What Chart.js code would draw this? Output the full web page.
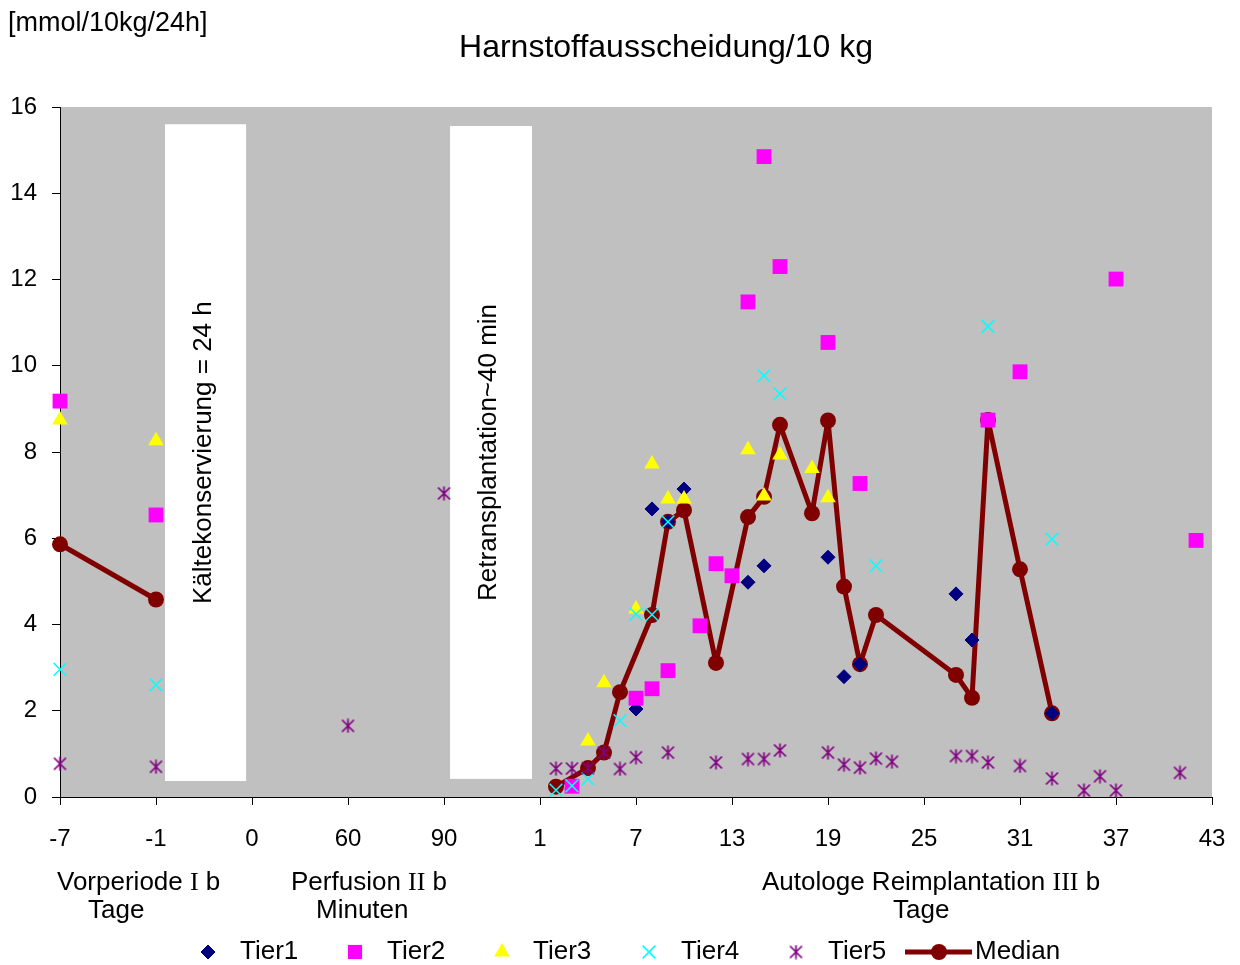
<!DOCTYPE html>
<html>
<head>
<meta charset="utf-8">
<script src="https://cdn.jsdelivr.net/npm/chart.js@4.4.1/dist/chart.umd.min.js"></script>
<style>
  html, body { margin: 0; padding: 0; background: #fff; }
  #wrap { width: 1240px; height: 965px; }
</style>
</head>
<body>
<div id="wrap"><canvas id="harnstoff" width="1240" height="965"></canvas></div>
<script>
// tick labels of the three sections (Vorperiode / Perfusion / Reimplantation)
const tickLabels = ["-7", "-1", "0", "60", "90", "1", "7", "13", "19", "25", "31", "37", "43"];
const vorTage = [-7, -1];
const perfMinuten = [0, 60, 90];

// Vorperiode I b
const tier2Vor = [9.18, 6.54];
const tier3Vor = [8.74, 8.26];
const tier4Vor = [2.96, 2.60];
const tier5Vor = [0.77, 0.70];
const medianVor = [5.86, 4.58];

// Perfusion II b (minutes)
const tier5PerfMin = [60, 90];
const tier5Perf = [1.65, 7.04];

// Autologe Reimplantation III b (days)
const tier1Tage = [7, 8, 9, 10, 14, 15, 19, 20, 21, 27, 28, 33];
const tier1Werte = [2.04, 6.68, 6.38, 7.14, 4.98, 5.36, 5.56, 2.79, 3.08, 4.71, 3.64, 1.94];

const tier2Tage = [3, 7, 8, 9, 11, 12, 13, 14, 15, 16, 19, 21, 29, 31, 37, 42];
const tier2Werte = [0.25, 2.29, 2.51, 2.93, 3.97, 5.41, 5.13, 11.48, 14.85, 12.30, 10.54, 7.27, 8.74, 9.86, 12.01, 5.95];

const tier3Tage = [4, 5, 7, 8, 9, 10, 14, 15, 16, 18, 19];
const tier3Werte = [1.30, 2.65, 4.36, 7.72, 6.91, 6.91, 8.05, 6.98, 7.93, 7.62, 6.94];

const tier4Tage = [2, 3, 4, 6, 7, 8, 9, 15, 16, 22, 29, 33];
const tier4Werte = [0.16, 0.26, 0.42, 1.77, 4.24, 4.23, 6.38, 9.77, 9.35, 5.36, 10.91, 5.98];

const tier5Tage = [2, 3, 4, 5, 6, 7, 9, 12, 14, 15, 16, 19, 20, 21, 22, 23, 27, 28, 29, 31, 33, 35, 36, 37, 41];
const tier5Werte = [0.66, 0.66, 0.67, 1.03, 0.65, 0.92, 1.03, 0.80, 0.88, 0.88, 1.08, 1.03, 0.75, 0.68, 0.89, 0.82, 0.95, 0.95, 0.80, 0.72, 0.43, 0.15, 0.48, 0.15, 0.56];

const medianTage = [2, 4, 5, 6, 8, 9, 10, 12, 14, 15, 16, 18, 19, 20, 21, 22, 27, 28, 29, 31, 33];
const medianWerte = [0.24, 0.67, 1.03, 2.43, 4.22, 6.38, 6.65, 3.11, 6.49, 6.96, 8.63, 6.58, 8.73, 4.88, 3.08, 4.22, 2.83, 2.30, 8.74, 5.28, 1.94];

// every label sits 6 slots apart on the category-like axis
function posVor(d) { return d + 7; }
function posPerf(m) { return 12 + perfMinuten.indexOf(m) * 6; }
function posTag(d) { return 29 + d; }
function pts(xs, ys, f) { return xs.map((x, i) => ({ x: f(x), y: ys[i] })); }

function makeStar(color) {
  const c = document.createElement("canvas");
  c.width = 15; c.height = 15;
  const g = c.getContext("2d");
  g.strokeStyle = color;
  g.lineWidth = 1.7;
  g.beginPath();
  g.moveTo(7.5, 0.5); g.lineTo(7.5, 14.5);
  g.moveTo(1.5, 1.5); g.lineTo(13.5, 13.5);
  g.moveTo(13.5, 1.5); g.lineTo(1.5, 13.5);
  g.stroke();
  return c;
}
const starImg = makeStar("#800080");

const FONT = "'Liberation Sans', Arial, sans-serif";
const SERIF = "'Liberation Serif', 'Times New Roman', serif";
Chart.defaults.font.family = FONT;
Chart.defaults.color = "#000";

const datasets = [
  {
    label: "Tier1", order: 5,
    data: pts(tier1Tage, tier1Werte, posTag),
    pointStyle: "rectRot", pointRadius: 7,
    backgroundColor: "#000080", borderColor: "#000080", borderWidth: 1
  },
  {
    label: "Tier2", order: 4,
    data: [...pts(vorTage, tier2Vor, posVor), ...pts(tier2Tage, tier2Werte, posTag)],
    pointStyle: "rect", pointRadius: 10.5,
    backgroundColor: "#FF00FF", borderColor: "#FF00FF", borderWidth: 0
  },
  {
    label: "Tier3", order: 3,
    data: [...pts(vorTage, tier3Vor, posVor), ...pts(tier3Tage, tier3Werte, posTag)],
    pointStyle: "triangle", pointRadius: 9,
    backgroundColor: "#FFFF00", borderColor: "#FFFF00", borderWidth: 0
  },
  {
    label: "Tier4", order: 2,
    data: [...pts(vorTage, tier4Vor, posVor), ...pts(tier4Tage, tier4Werte, posTag)],
    pointStyle: "crossRot", pointRadius: 9,
    backgroundColor: "#00FFFF", borderColor: "#00FFFF", borderWidth: 1.5
  },
  {
    label: "Tier5", order: 1,
    data: [...pts(vorTage, tier5Vor, posVor), ...pts(tier5PerfMin, tier5Perf, posPerf), ...pts(tier5Tage, tier5Werte, posTag)],
    pointStyle: starImg, pointRadius: 7,
    backgroundColor: "#800080", borderColor: "#800080"
  },
  {
    label: "Median", order: 6,
    data: [...pts(vorTage, medianVor, posVor), { x: 15, y: null }, ...pts(medianTage, medianWerte, posTag)],
    showLine: true, spanGaps: false,
    borderColor: "#800000", borderWidth: 5,
    borderJoinStyle: "round", borderCapStyle: "round",
    pointStyle: "circle", pointRadius: 8,
    backgroundColor: "#800000", pointBorderColor: "#800000", pointBorderWidth: 0
  }
];

// text helper: pieces of [text, font]
function drawPieces(ctx, pieces, x, y) {
  let cx = x;
  pieces.forEach(([t, f]) => {
    ctx.font = f;
    ctx.fillText(t, cx, y);
    cx += ctx.measureText(t).width;
  });
}

const decor = {
  id: "decor",
  beforeDraw(chart) {
    const { ctx, chartArea: a } = chart;
    ctx.save();
    ctx.fillStyle = "#fff";
    ctx.fillRect(0, 0, chart.width, chart.height);
    ctx.fillStyle = "#C0C0C0";
    ctx.fillRect(a.left, a.top, a.right - a.left, a.bottom - a.top);
    ctx.restore();
  },
  beforeDatasetsDraw(chart) {
    const { ctx, scales: { x, y } } = chart;
    const boxes = [
      { x0: 6.56, x1: 11.63, y0: 0.37, y1: 15.6, text: "Kältekonservierung = 24 h" },
      { x0: 24.38, x1: 29.5, y0: 0.42, y1: 15.56, text: "Retransplantation~40 min" }
    ];
    ctx.save();
    boxes.forEach(b => {
      const l = x.getPixelForValue(b.x0), r = x.getPixelForValue(b.x1);
      const t = y.getPixelForValue(b.y1), btm = y.getPixelForValue(b.y0);
      ctx.fillStyle = "#fff";
      ctx.fillRect(l, t, r - l, btm - t);
      ctx.save();
      ctx.translate((l + r) / 2 - 2, (t + btm) / 2);
      ctx.rotate(-Math.PI / 2);
      ctx.fillStyle = "#000";
      ctx.font = "26px " + FONT;
      ctx.textAlign = "center";
      ctx.textBaseline = "middle";
      ctx.fillText(b.text, 0, 0);
      ctx.restore();
    });
    ctx.restore();
  },
  afterDraw(chart) {
    const { ctx } = chart;
    ctx.save();
    ctx.fillStyle = "#000";
    ctx.textBaseline = "alphabetic";

    ctx.font = "32px " + FONT;
    ctx.textAlign = "center";
    ctx.fillText("Harnstoffausscheidung/10 kg", 666, 57);

    ctx.textAlign = "left";
    ctx.font = "27px " + FONT;
    ctx.fillText("[mmol/10kg/24h]", 8, 31);

    const sans = "26px " + FONT, serif = "26px " + SERIF;
    drawPieces(ctx, [["Vorperiode ", sans], ["I", serif], [" b", sans]], 57, 890);
    drawPieces(ctx, [["Tage", sans]], 88, 918);
    drawPieces(ctx, [["Perfusion ", sans], ["II", serif], [" b", sans]], 291, 890);
    drawPieces(ctx, [["Minuten", sans]], 316, 918);
    drawPieces(ctx, [["Autologe Reimplantation ", sans], ["III", serif], [" b", sans]], 762, 890);
    drawPieces(ctx, [["Tage", sans]], 893, 918);

    // legend
    const ly = 952;
    const items = [
      { ds: 0, mx: 208, tx: 240, r: 7 },
      { ds: 1, mx: 355, tx: 387, r: 10 },
      { ds: 2, mx: 502, tx: 533, r: 9 },
      { ds: 3, mx: 649, tx: 681, r: 9 },
      { ds: 4, mx: 796, tx: 828, r: 7 }
    ];
    items.forEach(it => {
      const d = chart.data.datasets[it.ds];
      ctx.fillStyle = d.backgroundColor;
      ctx.strokeStyle = d.borderColor;
      ctx.lineWidth = d.borderWidth || 1;
      Chart.helpers.drawPoint(ctx, { pointStyle: d.pointStyle, radius: it.r, rotation: 0, borderWidth: d.borderWidth || 0 }, it.mx, ly);
      ctx.fillStyle = "#000";
      ctx.font = sans;
      ctx.textBaseline = "middle";
      ctx.fillText(d.label, it.tx, ly);
    });
    const m = chart.data.datasets[5];
    ctx.strokeStyle = m.borderColor;
    ctx.lineWidth = 5;
    ctx.beginPath();
    ctx.moveTo(905, ly);
    ctx.lineTo(972, ly);
    ctx.stroke();
    ctx.fillStyle = m.backgroundColor;
    ctx.beginPath();
    ctx.arc(939, ly, 8, 0, Math.PI * 2);
    ctx.fill();
    ctx.fillStyle = "#000";
    ctx.fillText(m.label, 975, ly);
    ctx.restore();
  }
};

new Chart(document.getElementById("harnstoff").getContext("2d"), {
  type: "scatter",
  data: { datasets: datasets },
  plugins: [decor],
  options: {
    responsive: false,
    animation: false,
    events: [],
    layout: { autoPadding: false, padding: { top: 107, left: 0, right: 28, bottom: 0 } },
    datasets: { scatter: { clip: false } },
    plugins: {
      legend: { display: false },
      title: { display: false },
      tooltip: { enabled: false }
    },
    scales: {
      x: {
        type: "linear",
        min: 0,
        max: 72,
        afterBuildTicks: s => { s.ticks = tickLabels.map((_, i) => ({ value: i * 6 })); },
        afterFit: s => { s.height = 168; s.paddingLeft = 0; s.paddingRight = 0; },
        ticks: {
          autoSkip: false,
          maxRotation: 0,
          padding: 20,
          font: { size: 24 },
          color: "#000",
          callback: v => tickLabels[Math.round(v / 6)]
        },
        grid: { drawOnChartArea: false, drawTicks: true, tickLength: 8, color: "#000" },
        border: { color: "#000", width: 1 }
      },
      y: {
        min: 0,
        max: 16,
        afterFit: s => { s.width = 60; },
        ticks: { stepSize: 2, padding: 15, font: { size: 24 }, color: "#000" },
        grid: { drawOnChartArea: false, drawTicks: true, tickLength: 8, color: "#000" },
        border: { color: "#000", width: 1 }
      }
    }
  }
});
</script>
</body>
</html>
